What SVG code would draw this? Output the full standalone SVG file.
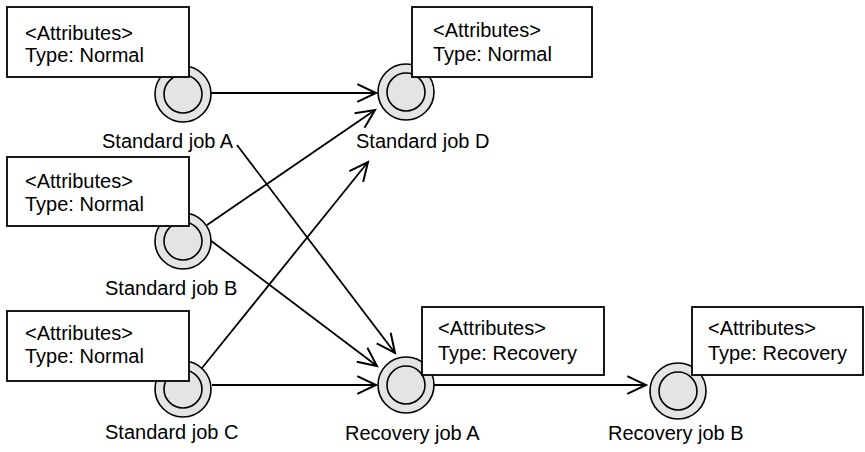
<svg xmlns="http://www.w3.org/2000/svg" width="865" height="452" viewBox="0 0 865 452">
<style>
  .bg{fill:#ffffff}
  .outer{fill:#e4e4e4;stroke:#000;stroke-width:1.6}
  .inner{fill:#e4e4e4;stroke:#000;stroke-width:1.6}
  .box{fill:#ffffff;stroke:#000;stroke-width:1.8}
  .t{font-family:"Liberation Sans",Arial,sans-serif;font-size:20px;fill:#000}
  .edge{fill:none;stroke:#000;stroke-width:1.8}
</style>
<defs>
  <marker id="arr" markerUnits="userSpaceOnUse" markerWidth="22" markerHeight="22" refX="18" refY="10" orient="auto" viewBox="0 0 20 20" overflow="visible">
    <path d="M1,2 L18,10 L1,18" fill="none" stroke="#000" stroke-width="1.8"/>
  </marker>
</defs>
<rect class="bg" x="0" y="0" width="865" height="452"/>

<g id="connectors">
  <line class="edge" x1="211" y1="93" x2="376" y2="93" marker-end="url(#arr)"/>
  <line class="edge" x1="207" y1="225" x2="375" y2="110" marker-end="url(#arr)"/>
  <line class="edge" x1="202" y1="368" x2="368" y2="162" marker-end="url(#arr)"/>
  <line class="edge" x1="237" y1="145" x2="395" y2="353" marker-end="url(#arr)"/>
  <line class="edge" x1="210" y1="240" x2="377" y2="366" marker-end="url(#arr)"/>
  <line class="edge" x1="212" y1="385" x2="376" y2="385" marker-end="url(#arr)"/>
  <line class="edge" x1="434" y1="385" x2="646" y2="385" marker-end="url(#arr)"/>
</g>

<g id="standard-job-A">
  <circle class="outer" cx="183" cy="94" r="28"/>
  <circle class="inner" cx="183" cy="94" r="19"/>
  <rect class="box" x="7" y="7" width="182" height="70"/>
  <text class="t" x="25" y="40">&lt;Attributes&gt;</text>
  <text class="t" x="25" y="62">Type: Normal</text>
  <text class="t" x="102" y="148">Standard job A</text>
</g>

<g id="standard-job-D">
  <circle class="outer" cx="406" cy="92" r="28"/>
  <circle class="inner" cx="406" cy="92" r="19"/>
  <rect class="box" x="412" y="7" width="180" height="70"/>
  <text class="t" x="433" y="37">&lt;Attributes&gt;</text>
  <text class="t" x="433" y="61">Type: Normal</text>
  <text class="t" x="356" y="148">Standard job D</text>
</g>

<g id="standard-job-B">
  <circle class="outer" cx="183" cy="241" r="28"/>
  <circle class="inner" cx="183" cy="241" r="19"/>
  <rect class="box" x="7" y="157" width="182" height="69"/>
  <text class="t" x="25" y="188">&lt;Attributes&gt;</text>
  <text class="t" x="25" y="211">Type: Normal</text>
  <text class="t" x="105" y="295">Standard job B</text>
</g>

<g id="standard-job-C">
  <circle class="outer" cx="183" cy="389" r="28"/>
  <circle class="inner" cx="183" cy="389" r="19"/>
  <rect class="box" x="7" y="311" width="182" height="70"/>
  <text class="t" x="25" y="340">&lt;Attributes&gt;</text>
  <text class="t" x="25" y="363">Type: Normal</text>
  <text class="t" x="105" y="439">Standard job C</text>
</g>

<g id="recovery-job-A">
  <circle class="outer" cx="406" cy="385" r="28"/>
  <circle class="inner" cx="406" cy="385" r="19"/>
  <rect class="box" x="422" y="307" width="182" height="68"/>
  <text class="t" x="438" y="335">&lt;Attributes&gt;</text>
  <text class="t" x="438" y="360">Type: Recovery</text>
  <text class="t" x="345" y="440">Recovery job A</text>
</g>

<g id="recovery-job-B">
  <circle class="outer" cx="678" cy="391" r="28"/>
  <circle class="inner" cx="678" cy="391" r="19"/>
  <rect class="box" x="692" y="307" width="171" height="68"/>
  <text class="t" x="708" y="335">&lt;Attributes&gt;</text>
  <text class="t" x="708" y="360">Type: Recovery</text>
  <text class="t" x="608" y="440">Recovery job B</text>
</g>
</svg>
